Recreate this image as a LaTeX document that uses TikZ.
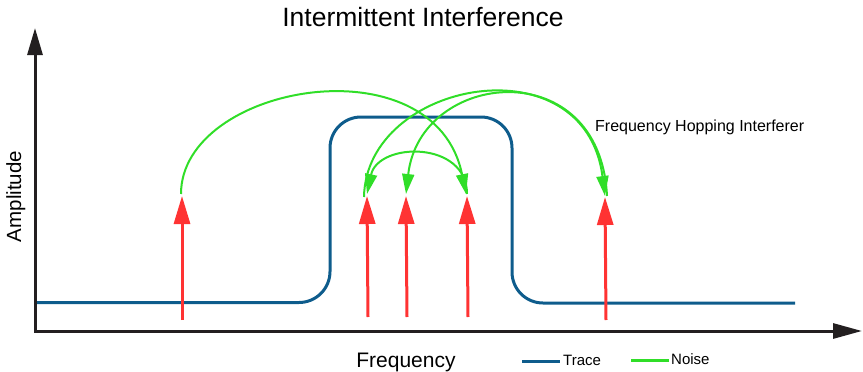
\documentclass[tikz,border=0pt]{standalone}
\usepackage{fontspec}
\setmainfont{Liberation Sans}
\usetikzlibrary{arrows.meta}
\definecolor{axisc}{RGB}{35,31,32}
\definecolor{tracec}{RGB}{14,92,140}
\definecolor{redc}{RGB}{255,51,51}
\definecolor{greenc}{RGB}{48,222,40}
\tikzset{
  axisline/.style={draw=axisc, line width=3pt, line join=miter},
  traceline/.style={draw=tracec, line width=3pt},
  hopper/.style={draw=redc, line width=3pt, -{Triangle[length=28pt,width=16pt]}},
  hopline/.style={draw=greenc, line width=2pt},
  hoparc/.style={hopline, -{Triangle[length=20pt,width=12pt]}},
  lbl/.style={inner sep=0pt, anchor=base, text=black},
}
\begin{document}
\begin{tikzpicture}[x=1pt,y=-1pt]
\useasboundingbox (0,0) rectangle (863,372);
% axes
\coordinate (ytip) at (35,28);
\coordinate (origin) at (35,331);
\coordinate (xtip) at (862,331);
\draw[axisline, {Triangle[length=27pt,width=15pt]}-{Triangle[length=29pt,width=15pt]}] (ytip) -- (origin) -- (xtip);
% trace
\coordinate (t0) at (37,302.5);
\coordinate (t1) at (330,302.5);
\coordinate (t2) at (330,117);
\coordinate (t3) at (512,117);
\coordinate (t4) at (512,303);
\coordinate (t5) at (795,303);
\draw[traceline, rounded corners=31pt] (t0) -- (t1) -- (t2) -- (t3) -- (t4) -- (t5);
% red hopping arrows
\coordinate (b1) at (182,320); \coordinate (h1) at (182,196);
\coordinate (b2) at (368,317); \coordinate (h2) at (367,196);
\coordinate (b3) at (407,317); \coordinate (h3) at (406,196);
\coordinate (b4) at (468,317); \coordinate (h4) at (467,196);
\coordinate (b5) at (606,320); \coordinate (h5) at (605,197);
\foreach \i in {1,...,5} \draw[hopper] (b\i) -- (h\i);
% green noise arcs
\draw[hoparc] (181,194) .. controls (181,84) and (435,40) .. (466,194);
\draw[hoparc] (467,194) .. controls (467,140) and (378,142) .. (367,194);
\draw[hoparc] (364,197) .. controls (366,80) and (585,40) .. (605,196);
\draw[hoparc] (607,196) .. controls (600,52) and (420,70) .. (406,194);
% labels
\node[lbl, font=\fontsize{26.5}{31}\selectfont] (title) at (423,27) {Intermittent Interference};
\node[lbl, font=\fontsize{21}{25}\selectfont] (xlab) at (406,367.5) {Frequency};
\node[lbl, font=\fontsize{20.5}{25}\selectfont, rotate=90] (ylab) at (21,196.5) {Amplitude};
\node[lbl, anchor=base west, font=\fontsize{16}{19}\selectfont] (fhi) at (595,131.5) {Frequency Hopping Interferer};
% legend
\coordinate (lt0) at (522,361.5); \coordinate (lt1) at (560,361.5);
\draw[traceline] (lt0) -- (lt1);
\node[lbl, anchor=base west, font=\fontsize{15}{18}\selectfont] (ltrace) at (563,365) {Trace};
\coordinate (ln0) at (631,360.5); \coordinate (ln1) at (669,360.5);
\draw[hopline, line width=3pt] (ln0) -- (ln1);
\node[lbl, anchor=base west, font=\fontsize{15}{18}\selectfont] (lnoise) at (671,364) {Noise};
\end{tikzpicture}
\end{document}
